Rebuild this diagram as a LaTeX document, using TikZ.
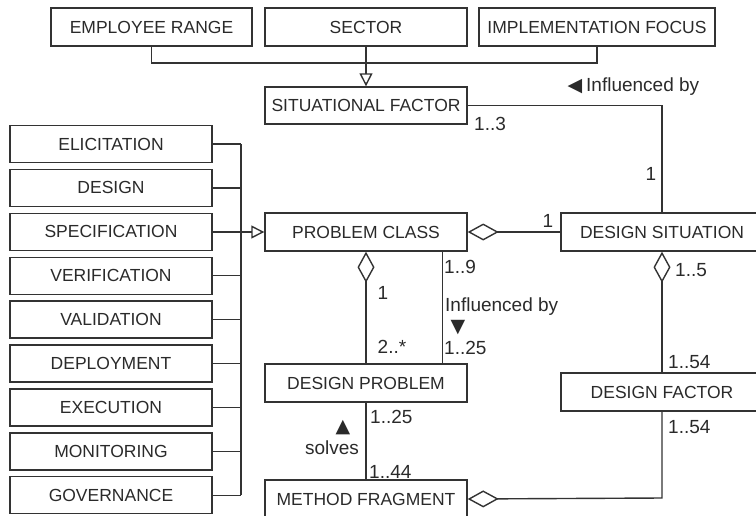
\documentclass[tikz,border=0pt]{standalone}
\usepackage{fontspec}
\setmainfont{Liberation Sans}
\newfontfamily\symfnt{DejaVu Sans}
\usetikzlibrary{arrows.meta}
\definecolor{ln}{HTML}{333333}
\definecolor{tx}{HTML}{2A2A2A}
\tikzset{
  cls/.style={draw=ln, line width=1.4pt, rectangle, minimum width=202pt, minimum height=38pt, inner sep=0pt, text=tx, font=\fontsize{17.5}{17.5}\selectfont},
  lbl/.style={text=tx, inner sep=0pt, font=\fontsize{19}{19}\selectfont},
  sym/.style={text=tx, inner sep=0pt, font=\symfnt\fontsize{19}{19}\selectfont},
  conn/.style={draw=ln, line width=1.4pt},
  gen/.style={-{Triangle[open,length=13pt,width=13pt]}},
  aggs/.style={{Diamond[open,length=31pt,width=17pt]}-},
  agge/.style={-{Diamond[open,length=31pt,width=17pt]}},
}
\begin{document}
\begin{tikzpicture}[x=1pt,y=-1pt]
\useasboundingbox (0,0) rectangle (756,515);
\clip (0,0) rectangle (756,515);
% top
\node[cls, minimum width=201pt] (er) at (151.5,27) {EMPLOYEE RANGE};
\node[cls] (sec) at (366,27) {SECTOR};
\node[cls, minimum width=236pt] (imf) at (597,27) {IMPLEMENTATION FOCUS};
\node[cls, minimum height=37pt] (sf) at (366,105.5) {SITUATIONAL FACTOR};
% middle
\node[cls] (pc) at (366,232) {PROBLEM CLASS};
\node[cls] (ds) at (662,232) {DESIGN SITUATION};
\node[cls] (dp) at (366,383) {DESIGN PROBLEM};
\node[cls] (df) at (662,392) {DESIGN FACTOR};
\node[cls] (mf) at (366,499) {METHOD FRAGMENT};
% left
\node[cls, minimum height=37pt] (l1) at (111,144) {ELICITATION};
\node[cls, minimum height=37pt] (l2) at (111,187.9) {DESIGN};
\node[cls, minimum height=37pt] (l3) at (111,231.8) {SPECIFICATION};
\node[cls, minimum height=37pt] (l4) at (111,275.7) {VERIFICATION};
\node[cls, minimum height=37pt] (l5) at (111,319.6) {VALIDATION};
\node[cls, minimum height=37pt] (l6) at (111,363.5) {DEPLOYMENT};
\node[cls, minimum height=37pt] (l7) at (111,407.4) {EXECUTION};
\node[cls, minimum height=37pt] (l8) at (111,451.3) {MONITORING};
\node[cls, minimum height=37pt] (l9) at (111,495.2) {GOVERNANCE};
% coordinates
\coordinate (bus) at (366,63);
\coordinate (lbt) at (241,144);
\coordinate (lbb) at (241,495.2);
\coordinate (lbm) at (241,232);
\coordinate (dfc) at (662,498);
% top generalization
\draw[conn] (er.south) |- (bus) -| (imf.south);
\draw[conn, gen] (sec.south) -- (sf.north);
% left generalization
\draw[conn] (lbt) -- (lbb);
\foreach \i in {1,...,9} { \draw[conn] (l\i.east) -- (l\i.east -| lbt); }
\draw[conn, gen] (lbm) -- (pc.west);
% associations
\draw[conn] (sf.east) -| (ds.north);
\draw[conn, aggs] (pc.east) -- (ds.west);
\draw[conn, aggs] (pc.south) -- (dp.north);
\draw[conn] ([xshift=-25pt]pc.south east) -- ([xshift=-25pt]dp.north east);
\draw[conn] (dp.south) -- (mf.north);
\draw[conn, aggs] (ds.south) -- (df.north);
\draw[conn, agge] (df.south) -- (dfc) -- (mf.east);
% labels
\node[sym] (s1) at (575,87) {◀};
\node[lbl, anchor=west] (t1) at (586,87) {Influenced by};
\node[lbl, anchor=west] (t2) at (474,124) {1..3};
\node[lbl] (t3) at (651,174) {1};
\node[lbl] (t4) at (548,221) {1};
\node[lbl] (t5) at (383,293) {1};
\node[lbl] (t6) at (392,347) {2..*};
\node[lbl, anchor=west] (t7) at (444,267) {1..9};
\node[lbl, anchor=west] (t8) at (445,307) {Influenced by};
\node[sym] (t9) at (458,328) {▼};
\node[lbl, anchor=west] (t10) at (444,348) {1..25};
\node[lbl, anchor=west] (t11) at (370,417) {1..25};
\node[sym] (t12) at (343,428) {▲};
\node[lbl] (t13) at (332,448) {solves};
\node[lbl, anchor=west] (t14) at (369,472) {1..44};
\node[lbl, anchor=west] (t15) at (675,270) {1..5};
\node[lbl, anchor=west] (t16) at (668,362) {1..54};
\node[lbl, anchor=west] (t17) at (668,427) {1..54};
\end{tikzpicture}
\end{document}
